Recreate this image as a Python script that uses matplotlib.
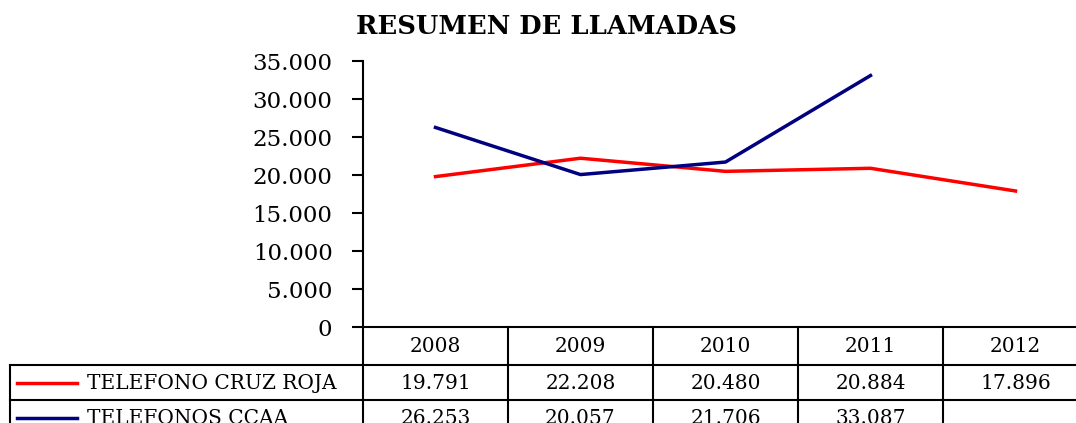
import numpy as np
import matplotlib.pyplot as plt

# data
years = ['2008', '2009', '2010', '2011', '2012']
cruz_roja = [19791, 22208, 20480, 20884, 17896]
ccaa = [26253, 20057, 21706, 33087, np.nan]
series_names = ['TELEFONO CRUZ ROJA', 'TELEFONOS CCAA']
colors = ['#FF0000', '#000080']

W, H = 1076, 423
plt.rcParams['font.family'] = 'DejaVu Serif'
fig = plt.figure(figsize=(W / 100, H / 100), dpi=100)

# chart area in pixels
x0, x1 = 363, 1088
y0, y1 = 327, 61
ax = fig.add_axes([x0 / W, (H - y0) / H, (x1 - x0) / W, (y0 - y1) / H])
x = np.arange(len(years))
ax.plot(x, cruz_roja, color=colors[0], lw=2.5)
ax.plot(x, ccaa, color=colors[1], lw=2.5)
ax.set_xlim(-0.5, len(years) - 0.5)
ax.set_ylim(0, 35000)
ax.set_yticks(range(0, 35001, 5000))
ax.set_yticklabels([f'{v:,}'.replace(',', '.') for v in range(0, 35001, 5000)], fontsize=16.5)
ax.tick_params(axis='y', length=8, width=1.5, pad=14, direction='out')
ax.tick_params(axis='x', length=0, labelbottom=False)
ax.spines['top'].set_visible(False)
ax.spines['right'].set_visible(False)
ax.spines['left'].set_linewidth(1.5)
ax.spines['bottom'].set_linewidth(1.5)
ax.set_facecolor('none')

fig.text(546 / W, 1 - 26 / H, 'RESUMEN DE LLAMADAS', ha='center', va='center',
         fontsize=18.5, fontweight='bold')

# data table drawn in pixel coordinates
tax = fig.add_axes([0, 0, 1, 1])
tax.set_xlim(0, W)
tax.set_ylim(H, 0)
tax.axis('off')
tax.patch.set_alpha(0)

col_w = (x1 - x0) / len(years)
col_edges = [x0 + i * col_w for i in range(len(years) + 1)]
row_edges = [327, 365, 400, 435]
lw = 1.5
for xe in col_edges:
    tax.plot([xe, xe], [row_edges[0], row_edges[-1]], color='black', lw=lw)
tax.plot([10, 10], [row_edges[1], row_edges[-1]], color='black', lw=lw)
for ye in row_edges[1:]:
    tax.plot([10, x1], [ye, ye], color='black', lw=lw)

for i, yr in enumerate(years):
    cx = (col_edges[i] + col_edges[i + 1]) / 2
    tax.text(cx, (row_edges[0] + row_edges[1]) / 2 + 1, yr, ha='center', va='center', fontsize=14.5)

for r, (name, vals, c) in enumerate(zip(series_names, [cruz_roja, ccaa], colors)):
    cy = (row_edges[r + 1] + row_edges[r + 2]) / 2 + 1
    tax.plot([17, 77], [cy, cy], color=c, lw=2.5)
    tax.text(87, cy, name, ha='left', va='center', fontsize=14.5)
    for i, v in enumerate(vals):
        if np.isnan(v):
            continue
        cx = (col_edges[i] + col_edges[i + 1]) / 2
        tax.text(cx, cy, f'{int(v):,}'.replace(',', '.'), ha='center', va='center', fontsize=14.5)

fig.savefig('out.png', dpi=100)
